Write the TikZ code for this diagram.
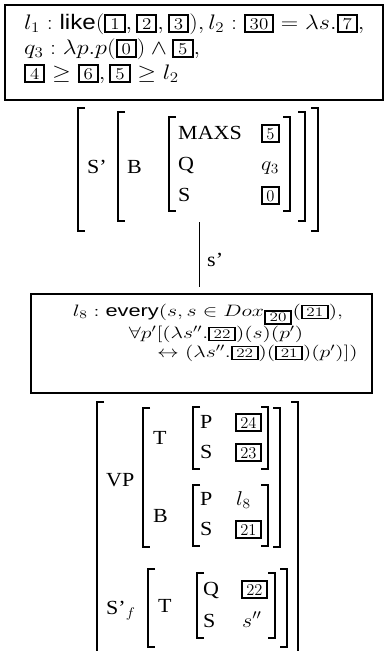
\RequirePackage{fix-cm}
\documentclass[tikz,border=0pt]{standalone}
\usepackage{graphicx}
\usepackage[no-math]{fontspec}
\setmainfont{Liberation Serif}
\newfontfamily\hv{Liberation Sans}
\newcommand\bx[1]{{\fboxrule=1.7pt\fboxsep=2.3pt\fbox{\hspace{1.2pt}\fontsize{16.5}{16.5}\selectfont$#1$\hspace{1.2pt}}}}
\newcommand\bxs[1]{{\fboxrule=1.4pt\fboxsep=1.6pt\fbox{\hspace{1.2pt}\fontsize{13}{13}\selectfont$#1$\hspace{1.2pt}}}}
\newcommand\sx[2]{\scalebox{#1}[1]{#2}}
\tikzset{
  brk/.style={line width=1.8pt},
  frame/.style={draw, line width=2.4pt, inner sep=0pt},
  avm/.style={font=\fontsize{20}{20}\selectfont, inner sep=0pt, anchor=base west},
  toptxt/.style={font=\fontsize{21}{24}\selectfont, inner sep=0pt, anchor=base west},
  midtxt/.style={font=\fontsize{16.5}{18}\selectfont, inner sep=0pt},
}
\newcommand\brpair[4]{%
  \draw[brk] (#1+7,#3) -- (#1,#3) -- (#1,#4) -- (#1+7,#4);
  \draw[brk] (#2-7,#3) -- (#2,#3) -- (#2,#4) -- (#2-7,#4);}
\begin{document}
\begin{tikzpicture}[x=1pt,y=-1pt]
\path[use as bounding box] (0,0) rectangle (385,651);
\clip (0,0) rectangle (385,651);
% top box
\node[frame, minimum width=378, minimum height=95] (topbox) at (194,52.5) {};
\node[toptxt] (t1) at (24,29) {\sx{1.15}{$l_1:\mbox{\hv like}(\bx{1}, \bx{2}, \bx{3}), l_2 : \bx{30} = \lambda s.\bx{7},$}};
\node[toptxt] (t2) at (24,54) {\sx{1.15}{$q_3 : \lambda p.p(\bx{0}) \wedge \bx{5},$}};
\node[toptxt] (t3) at (24,79) {\sx{1.15}{$\bx{4} \geq \bx{6}, \bx{5} \geq l_2$}};
% upper AVM
\brpair{78}{318}{108}{231}
\brpair{118}{305}{112}{221}
\brpair{169}{290}{117}{211}
\node[avm] (us) at (87,173) {\sx{1.1}{S'}};
\node[avm] (ub) at (127,173) {\sx{1.1}{B}};
\node[avm] (umaxs) at (178,139) {\sx{1.1}{MAXS}};
\node[avm] (uq) at (178,170) {\sx{1.1}{Q}};
\node[avm] (uss) at (178,201) {\sx{1.1}{S}};
\node[avm] (u5) at (261,139) {\bx{5}};
\node[avm] (uq3) at (261,170) {\sx{1.1}{$q_3$}};
\node[avm] (u0) at (261,201) {\bx{0}};
% connector
\coordinate (cA) at (199,222);
\coordinate (cB) at (199,287);
\draw[line width=1pt] (cA) -- (cB);
\node[avm] (sl) at (207,266) {\sx{1.1}{s'}};
% middle box
\node[frame, minimum width=341, minimum height=99] (midbox) at (201.5,343.5) {};
\node[midtxt, anchor=base] (m1) at (208,316) {\sx{1.32}{$l_8 : \mbox{\hv every}(s, s \in Dox_{\bxs{20}}(\bxs{21}),$}};
\node[midtxt, anchor=base] (m2) at (216,338) {\sx{1.32}{$\forall p'[(\lambda s''.\bxs{22})(s)(p')$}};
\node[midtxt, anchor=base east] (m3) at (358,357) {\sx{1.32}{$\leftrightarrow (\lambda s''.\bxs{22})(\bxs{21})(p')])$}};
% lower AVM
\brpair{97}{298}{402}{670}
\brpair{143}{280}{408}{547}
\brpair{193}{268}{407}{469}
\brpair{193}{268}{485}{546}
\brpair{148}{287}{569}{647}
\brpair{197}{275}{573}{638}
\node[avm] (lvp) at (106,486) {\sx{1.1}{VP}};
\node[avm] (lt1) at (153,444) {\sx{1.1}{T}};
\node[avm] (lp1) at (200,428) {\sx{1.1}{P}};
\node[avm] (ls1) at (200,458) {\sx{1.1}{S}};
\node[avm] (l24) at (235,428) {\bx{24}};
\node[avm] (l23) at (235,458) {\bx{23}};
\node[avm] (lb) at (153,522) {\sx{1.1}{B}};
\node[avm] (lp2) at (200,505) {\sx{1.1}{P}};
\node[avm] (ll8) at (236,505) {\sx{1.1}{$l_8$}};
\node[avm] (ls2) at (200,535) {\sx{1.1}{S}};
\node[avm] (l21) at (235,535) {\bx{21}};
\node[avm] (lsf) at (106,614) {\sx{1.1}{S'$_f$}};
\node[avm] (lt2) at (158,612) {\sx{1.1}{T}};
\node[avm] (lq) at (203,595) {\sx{1.1}{Q}};
\node[avm] (l22) at (241,595) {\bx{22}};
\node[avm] (ls3) at (203,627) {\sx{1.1}{S}};
\node[avm] (lspp) at (242,627) {\sx{1.1}{$s''$}};
\end{tikzpicture}
\end{document}
